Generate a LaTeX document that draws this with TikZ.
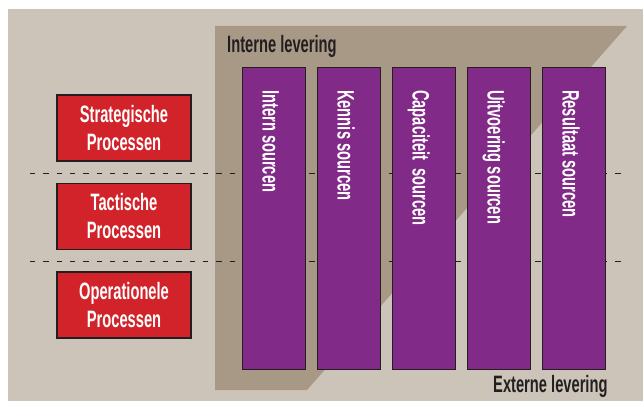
\documentclass[tikz,border=0pt]{standalone}
\usepackage{fontspec}
\newfontfamily\condfont{Liberation Sans}[FakeStretch=0.62]
\definecolor{lvbg}{RGB}{205,196,185}
\definecolor{lvtan}{RGB}{168,152,134}
\definecolor{lvred}{RGB}{210,35,42}
\definecolor{lvpurple}{RGB}{130,42,135}
\definecolor{lvdark}{RGB}{35,31,32}
\usetikzlibrary{positioning}

\begin{document}
\begin{tikzpicture}[
  x=1pt,y=-1pt,
  cond/.style={font=\condfont\bfseries\fontsize{23.7}{28}\selectfont},
  proc/.style={cond,draw=lvdark,line width=1.2pt,fill=lvred,text=white,minimum width=134pt,minimum height=66pt,inner sep=0pt,align=center},
  src/.style={draw=lvdark,line width=1pt,fill=lvpurple,minimum width=63pt,minimum height=301pt,inner sep=0pt},
  srctxt/.style={cond,rotate=-90,anchor=west,inner sep=0pt,text=white,text height=17pt,text depth=0pt},
  lbl/.style={cond,anchor=base west,inner sep=0pt,text=lvdark},
  sep/.style={draw=lvdark,line width=0.9pt,dash pattern=on 5.3pt off 8pt}
]
  \useasboundingbox (0,0) rectangle (643,401);
  % Background and internal delivery area
  \fill[lvbg] (8,9) rectangle (643,401);
  \fill[lvtan] (215,26) -- (627,26) -- (307,390) -- (215,390) -- cycle;
  \node[lbl] (intern) at (227,53) {Interne levering};
  \node[lbl] (extern) at (493,392) {Externe levering};
  % Level separators
  \coordinate (sepAw) at (30,173);
  \coordinate (sepAe) at (622,173);
  \coordinate (sepBw) at (30,261);
  \coordinate (sepBe) at (622,261);
  \draw[sep] (sepAw) -- (sepAe);
  \draw[sep] (sepBw) -- (sepBe);
  % Process levels
  \node[proc] (strat) at (124,128) {Strategische\\Processen};
  \node[proc] (tact) at (124,216.5) {Tactische\\Processen};
  \node[proc] (oper) at (124,305) {Operationele\\Processen};
  % Sourcing columns
  \node[src] (s1) at (273.5,218.5) {};
  \node[src] (s2) at (348.5,218.5) {};
  \node[src] (s3) at (423.5,218.5) {};
  \node[src] (s4) at (498.5,218.5) {};
  \node[src] (s5) at (573.5,218.5) {};
  \node[srctxt] (t1) at (271,90) {Intern sourcen};
  \node[srctxt] (t2) at (346,90) {Kennis sourcen};
  \node[srctxt] (t3) at (421,90) {Capaciteit\ \ sourcen};
  \node[srctxt] (t4) at (496,90) {Uitvoering sourcen};
  \node[srctxt] (t5) at (571,90) {Resultaat sourcen};
\end{tikzpicture}
\end{document}
